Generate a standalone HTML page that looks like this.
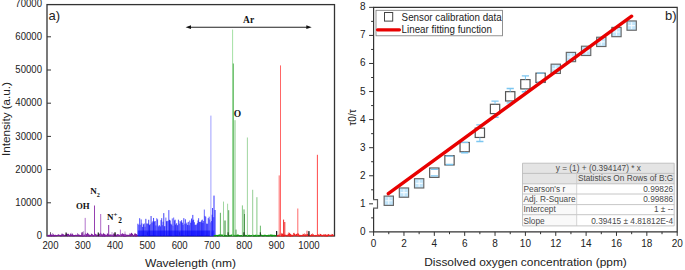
<!DOCTYPE html><html><head><meta charset="utf-8"><style>html,body{margin:0;padding:0;background:#fff;width:685px;height:270px;overflow:hidden}svg{display:block}text{font-family:"Liberation Sans",sans-serif}.s{font-family:"Liberation Serif",serif;font-weight:bold}</style></head><body>
<svg width="685" height="270" viewBox="0 0 685 270">
<defs><clipPath id="cl"><rect x="47.0" y="4.6" width="287.5" height="232.4"/></clipPath><clipPath id="cr"><rect x="373.6" y="7.3" width="303.6" height="224.6"/></clipPath></defs>
<rect x="47.0" y="4.6" width="287.5" height="231.4" fill="none" stroke="#333" stroke-width="1.3"/>
<line x1="47.0" y1="202.80" x2="51.0" y2="202.80" stroke="#333" stroke-width="1"/>
<line x1="47.0" y1="169.60" x2="51.0" y2="169.60" stroke="#333" stroke-width="1"/>
<line x1="47.0" y1="136.40" x2="51.0" y2="136.40" stroke="#333" stroke-width="1"/>
<line x1="47.0" y1="103.20" x2="51.0" y2="103.20" stroke="#333" stroke-width="1"/>
<line x1="47.0" y1="70.00" x2="51.0" y2="70.00" stroke="#333" stroke-width="1"/>
<line x1="47.0" y1="36.80" x2="51.0" y2="36.80" stroke="#333" stroke-width="1"/>
<line x1="50.50" y1="236.0" x2="50.50" y2="232.2" stroke="#666" stroke-width="1"/>
<line x1="82.80" y1="236.0" x2="82.80" y2="232.2" stroke="#666" stroke-width="1"/>
<line x1="115.10" y1="236.0" x2="115.10" y2="232.2" stroke="#666" stroke-width="1"/>
<line x1="147.40" y1="236.0" x2="147.40" y2="232.2" stroke="#666" stroke-width="1"/>
<line x1="179.70" y1="236.0" x2="179.70" y2="232.2" stroke="#666" stroke-width="1"/>
<line x1="212.00" y1="236.0" x2="212.00" y2="232.2" stroke="#666" stroke-width="1"/>
<line x1="244.30" y1="236.0" x2="244.30" y2="232.2" stroke="#666" stroke-width="1"/>
<line x1="276.60" y1="236.0" x2="276.60" y2="232.2" stroke="#666" stroke-width="1"/>
<line x1="308.90" y1="236.0" x2="308.90" y2="232.2" stroke="#666" stroke-width="1"/>
<g clip-path="url(#cl)">
<path d="M47.50 235.90L47.50 235.71L48.30 235.51L48.30 235.89L49.10 235.68L49.10 235.89L49.90 235.88L49.90 235.33L50.70 235.65L50.70 234.67L51.50 235.77L51.50 235.19L52.30 235.55L52.30 235.62L53.10 235.87L53.10 234.57L53.90 235.81L53.90 235.88L54.70 235.41L54.70 235.84L55.50 235.52L55.50 235.65L56.30 235.86L56.30 235.89L57.10 235.49L57.10 235.57L57.90 235.55L57.90 235.53L58.70 235.42L58.70 235.02L59.50 235.56L59.50 235.40L60.30 235.46L60.30 235.75L61.10 235.83L61.10 235.59L61.90 235.81L61.90 233.80L62.70 235.44L62.70 235.31L63.50 235.71L63.50 235.03L64.30 235.55L64.30 235.53L65.10 235.33L65.10 235.50L65.90 235.86L65.90 235.01L66.70 235.30L66.70 234.68L67.50 235.67L67.50 233.94L68.30 235.80L68.30 233.95L69.10 235.82L69.10 235.79L69.90 235.38L69.90 235.89L70.70 235.57L70.70 234.50L71.50 235.38L71.50 235.76L72.30 235.68L72.30 234.49L73.10 235.81L73.10 235.84L73.90 235.76L73.90 235.48L74.70 235.74L74.70 235.90L75.50 235.68L75.50 235.32L76.30 235.49L76.30 235.42L77.10 235.49L77.10 235.89L77.90 235.43L77.90 234.52L78.70 235.66L78.70 235.61L79.50 235.52L79.50 235.37L80.30 235.80L80.30 235.69L81.10 235.81L81.10 235.88L81.90 235.88L81.90 234.52L82.70 235.81L82.70 235.79L83.50 235.68L83.50 235.87L84.30 235.30L84.30 235.51L85.10 235.85L85.10 235.88L85.90 235.74L85.90 234.66L86.70 235.89L86.70 234.27L87.50 235.81L87.50 234.05L88.30 235.31L88.30 234.56L89.10 235.74L89.10 235.66L89.90 235.44L89.90 235.39L90.70 235.70L90.70 235.81L91.50 235.31L91.50 234.59L92.30 235.41L92.30 234.91L93.10 235.59L93.10 235.60L93.90 235.73L93.90 235.78L94.70 235.33L94.70 235.54L95.50 235.31L95.50 234.26L96.30 235.77L96.30 235.81L97.10 235.78L97.10 235.20L97.90 235.40L97.90 235.49L98.70 235.42L98.70 235.89L99.50 235.35L99.50 234.80L100.30 235.61L100.30 235.84L101.10 235.70L101.10 234.75L101.90 235.66L101.90 235.61L102.70 235.47L102.70 235.85L103.50 235.81L103.50 234.43L104.30 235.81L104.30 234.67L105.10 235.51L105.10 235.68L105.90 235.82L105.90 235.90L106.70 235.51L106.70 235.40L107.50 235.64L107.50 234.53L108.30 235.77L108.30 235.79L109.10 235.76L109.10 235.28L109.90 235.65L109.90 235.87L110.70 235.69L110.70 235.52L111.50 235.36L111.50 235.58L112.30 235.60L112.30 235.39L113.10 235.89L113.10 235.55L113.90 235.90L113.90 234.75L114.70 235.62L114.70 234.95L115.50 235.70L115.50 235.42L116.30 235.43L116.30 235.88L117.10 235.75L117.10 235.76L117.90 235.60L117.90 235.33L118.70 235.35L118.70 235.55L119.50 235.60L119.50 235.43L120.30 235.63L120.30 235.39L121.10 235.34L121.10 235.02L121.90 235.33L121.90 235.78L122.70 235.33L122.70 234.63L123.50 235.83L123.50 234.95L124.30 235.86L124.30 235.09L125.10 235.36L125.10 235.86L125.90 235.50L125.90 235.86L126.70 235.32L126.70 235.81L127.50 235.66L127.50 235.47L128.30 235.40L128.30 235.85L129.10 235.59L129.10 235.69L129.90 235.71L129.90 233.58L130.70 235.64L130.70 235.90L131.50 235.53L131.50 232.96L132.30 235.43L132.30 234.20L133.10 235.74L133.10 235.90L133.90 235.74L133.90 235.87L134.70 235.35L134.70 234.69L135.50 235.81L135.50 234.38L136.30 235.48L136.30 234.17L137.10 235.64L137.10 235.89L137.90 235.52" fill="none" stroke="#7a1a9a" stroke-width="1.1"/>
<path d="M82.00 235.90L82.00 232.35L82.60 235.86L82.60 234.26L83.20 235.70L83.20 235.23L83.80 235.74L83.80 235.86L84.40 235.76L84.40 235.87L85.00 235.87L85.00 235.81L85.60 235.72L85.60 234.63L86.20 235.60L86.20 235.83L86.80 235.89L86.80 233.93L87.40 235.57L87.40 235.82L88.00 235.34L88.00 235.88L88.60 235.64L88.60 235.36L89.20 235.66L89.20 235.34L89.80 235.31L89.80 235.64L90.40 235.48L90.40 235.01L91.00 235.69L91.00 235.89L91.60 235.86L91.60 234.69L92.20 235.80L92.20 235.88L92.80 235.38L92.80 234.91L93.40 235.75L93.40 235.71L94.00 235.81L94.00 235.46L94.60 235.32L94.60 233.82L95.20 235.75L95.20 233.85L95.80 235.69L95.80 235.90L96.40 235.62L96.40 235.34L97.00 235.60L97.00 235.90L97.60 235.85L97.60 235.49L98.20 235.72L98.20 235.78L98.80 235.58L98.80 234.66L99.40 235.47L99.40 234.20L100.00 235.70L100.00 233.77L100.60 235.47L100.60 232.90L101.20 235.36L101.20 235.03L101.80 235.41L101.80 235.86L102.40 235.60L102.40 234.37L103.00 235.40L103.00 235.15L103.60 235.49L103.60 234.84L104.20 235.88L104.20 235.86L104.80 235.84L104.80 234.36L105.40 235.52L105.40 235.04L106.00 235.61L106.00 235.90L106.60 235.45L106.60 235.34L107.20 235.50L107.20 235.89L107.80 235.75L107.80 235.89L108.40 235.46L108.40 235.81L109.00 235.31L109.00 235.36L109.60 235.61L109.60 234.87L110.20 235.53L110.20 234.62L110.80 235.75L110.80 234.68L111.40 235.56L111.40 235.23L112.00 235.50L112.00 234.85L112.60 235.73L112.60 235.31L113.20 235.62L113.20 235.87L113.80 235.78L113.80 233.80L114.40 235.89L114.40 235.44L115.00 235.32L115.00 235.46L115.60 235.77L115.60 233.93L116.20 235.55L116.20 235.86L116.80 235.33L116.80 235.86L117.40 235.59L117.40 234.17L118.00 235.76L118.00 234.13L118.60 235.89L118.60 235.90L119.20 235.63L119.20 235.70L119.80 235.69L119.80 235.68L120.40 235.90L120.40 234.66L121.00 235.83L121.00 234.01L121.60 235.36L121.60 235.72L122.20 235.66L122.20 233.71L122.80 235.68L122.80 235.50L123.40 235.87L123.40 235.88L124.00 235.73L124.00 233.97L124.60 235.74L124.60 235.33L125.20 235.68L125.20 233.89L125.80 235.41L125.80 235.02L126.40 235.34" fill="none" stroke="#8a2aa8" stroke-width="0.7"/>
<line x1="85.2" y1="235.9" x2="85.2" y2="217.9" stroke="#a050c0" stroke-width="0.8"/>
<line x1="94.5" y1="235.9" x2="94.5" y2="205.5" stroke="#8a2aa8" stroke-width="0.9"/>
<line x1="100.7" y1="235.9" x2="100.7" y2="214" stroke="#9a40b8" stroke-width="0.8"/>
<line x1="108.7" y1="235.9" x2="108.7" y2="225" stroke="#7a1a9a" stroke-width="0.9"/>
<line x1="120.4" y1="235.9" x2="120.4" y2="229.6" stroke="#a050c0" stroke-width="0.8"/>
<line x1="83.3" y1="235.9" x2="83.3" y2="231" stroke="#a060c0" stroke-width="0.6"/>
<line x1="112" y1="235.9" x2="112" y2="232" stroke="#a060c0" stroke-width="0.6"/>
<line x1="125" y1="235.9" x2="125" y2="231.5" stroke="#a060c0" stroke-width="0.6"/>
<line x1="66.1" y1="235.9" x2="66.1" y2="232.5" stroke="#222" stroke-width="1.2"/>
<line x1="98.3" y1="235.9" x2="98.3" y2="232.5" stroke="#222" stroke-width="1.2"/>
<line x1="115.0" y1="235.9" x2="115.0" y2="232.5" stroke="#222" stroke-width="1.2"/>
<g stroke-width="0.75">
<line x1="137.90" y1="235.9" x2="137.90" y2="223.73" stroke="#0000ff"/>
<line x1="138.83" y1="235.9" x2="138.83" y2="224.84" stroke="#1a1aff"/>
<line x1="139.65" y1="235.9" x2="139.65" y2="218.19" stroke="#1a1aff"/>
<line x1="140.31" y1="235.9" x2="140.31" y2="224.74" stroke="#3333ff"/>
<line x1="141.17" y1="235.9" x2="141.17" y2="219.43" stroke="#1a1aff"/>
<line x1="141.88" y1="235.9" x2="141.88" y2="223.45" stroke="#1a1aff"/>
<line x1="142.70" y1="235.9" x2="142.70" y2="226.93" stroke="#0000ee"/>
<line x1="143.49" y1="235.9" x2="143.49" y2="224.27" stroke="#0000ee"/>
<line x1="144.24" y1="235.9" x2="144.24" y2="223.41" stroke="#1a1aff"/>
<line x1="144.96" y1="235.9" x2="144.96" y2="226.76" stroke="#3333ff"/>
<line x1="145.85" y1="235.9" x2="145.85" y2="218.84" stroke="#0000ee"/>
<line x1="146.59" y1="235.9" x2="146.59" y2="223.50" stroke="#3333ff"/>
<line x1="147.45" y1="235.9" x2="147.45" y2="223.69" stroke="#3333ff"/>
<line x1="148.10" y1="235.9" x2="148.10" y2="223.61" stroke="#1a1aff"/>
<line x1="148.73" y1="235.9" x2="148.73" y2="219.78" stroke="#0000ee"/>
<line x1="149.48" y1="235.9" x2="149.48" y2="225.12" stroke="#0000ff"/>
<line x1="150.13" y1="235.9" x2="150.13" y2="224.18" stroke="#0000ee"/>
<line x1="151.07" y1="235.9" x2="151.07" y2="216.00" stroke="#0000ee"/>
<line x1="152.01" y1="235.9" x2="152.01" y2="222.55" stroke="#0000ff"/>
<line x1="152.94" y1="235.9" x2="152.94" y2="221.31" stroke="#0000ee"/>
<line x1="153.57" y1="235.9" x2="153.57" y2="217.97" stroke="#0000ff"/>
<line x1="154.39" y1="235.9" x2="154.39" y2="221.45" stroke="#0000ee"/>
<line x1="155.24" y1="235.9" x2="155.24" y2="221.08" stroke="#1a1aff"/>
<line x1="155.97" y1="235.9" x2="155.97" y2="225.48" stroke="#0000ff"/>
<line x1="156.76" y1="235.9" x2="156.76" y2="218.20" stroke="#3333ff"/>
<line x1="157.58" y1="235.9" x2="157.58" y2="219.37" stroke="#1a1aff"/>
<line x1="158.38" y1="235.9" x2="158.38" y2="226.51" stroke="#3333ff"/>
<line x1="159.00" y1="235.9" x2="159.00" y2="225.55" stroke="#0000ee"/>
<line x1="159.62" y1="235.9" x2="159.62" y2="225.29" stroke="#3333ff"/>
<line x1="160.30" y1="235.9" x2="160.30" y2="226.41" stroke="#0000ee"/>
<line x1="161.03" y1="235.9" x2="161.03" y2="220.15" stroke="#0000ff"/>
<line x1="161.70" y1="235.9" x2="161.70" y2="218.17" stroke="#1a1aff"/>
<line x1="162.38" y1="235.9" x2="162.38" y2="225.22" stroke="#3333ff"/>
<line x1="163.02" y1="235.9" x2="163.02" y2="221.72" stroke="#1a1aff"/>
<line x1="163.79" y1="235.9" x2="163.79" y2="213.13" stroke="#0000ee"/>
<line x1="164.41" y1="235.9" x2="164.41" y2="226.29" stroke="#0000ee"/>
<line x1="165.03" y1="235.9" x2="165.03" y2="226.10" stroke="#3333ff"/>
<line x1="165.88" y1="235.9" x2="165.88" y2="217.59" stroke="#3333ff"/>
<line x1="166.55" y1="235.9" x2="166.55" y2="221.24" stroke="#0000ee"/>
<line x1="167.16" y1="235.9" x2="167.16" y2="221.09" stroke="#3333ff"/>
<line x1="168.11" y1="235.9" x2="168.11" y2="220.69" stroke="#0000ff"/>
<line x1="168.83" y1="235.9" x2="168.83" y2="210.09" stroke="#1a1aff"/>
<line x1="169.56" y1="235.9" x2="169.56" y2="219.87" stroke="#0000ee"/>
<line x1="170.19" y1="235.9" x2="170.19" y2="220.50" stroke="#0000ee"/>
<line x1="170.86" y1="235.9" x2="170.86" y2="223.71" stroke="#0000ff"/>
<line x1="171.68" y1="235.9" x2="171.68" y2="224.62" stroke="#0000ee"/>
<line x1="172.30" y1="235.9" x2="172.30" y2="218.41" stroke="#3333ff"/>
<line x1="172.97" y1="235.9" x2="172.97" y2="225.77" stroke="#3333ff"/>
<line x1="173.66" y1="235.9" x2="173.66" y2="217.54" stroke="#3333ff"/>
<line x1="174.52" y1="235.9" x2="174.52" y2="220.43" stroke="#3333ff"/>
<line x1="175.12" y1="235.9" x2="175.12" y2="219.69" stroke="#0000ff"/>
<line x1="175.73" y1="235.9" x2="175.73" y2="224.55" stroke="#0000ee"/>
<line x1="176.67" y1="235.9" x2="176.67" y2="223.25" stroke="#0000ee"/>
<line x1="177.55" y1="235.9" x2="177.55" y2="225.18" stroke="#0000ff"/>
<line x1="178.43" y1="235.9" x2="178.43" y2="219.69" stroke="#1a1aff"/>
<line x1="179.24" y1="235.9" x2="179.24" y2="223.64" stroke="#3333ff"/>
<line x1="180.12" y1="235.9" x2="180.12" y2="221.09" stroke="#0000ee"/>
<line x1="180.98" y1="235.9" x2="180.98" y2="222.01" stroke="#3333ff"/>
<line x1="181.64" y1="235.9" x2="181.64" y2="220.22" stroke="#0000ff"/>
<line x1="182.31" y1="235.9" x2="182.31" y2="222.67" stroke="#0000ee"/>
<line x1="182.97" y1="235.9" x2="182.97" y2="224.95" stroke="#1a1aff"/>
<line x1="183.83" y1="235.9" x2="183.83" y2="218.17" stroke="#0000ff"/>
<line x1="184.71" y1="235.9" x2="184.71" y2="223.67" stroke="#3333ff"/>
<line x1="185.44" y1="235.9" x2="185.44" y2="219.29" stroke="#1a1aff"/>
<line x1="186.10" y1="235.9" x2="186.10" y2="224.08" stroke="#1a1aff"/>
<line x1="186.82" y1="235.9" x2="186.82" y2="222.68" stroke="#1a1aff"/>
<line x1="187.64" y1="235.9" x2="187.64" y2="224.97" stroke="#0000ff"/>
<line x1="188.28" y1="235.9" x2="188.28" y2="221.87" stroke="#0000ee"/>
<line x1="189.20" y1="235.9" x2="189.20" y2="225.23" stroke="#0000ff"/>
<line x1="189.82" y1="235.9" x2="189.82" y2="220.52" stroke="#1a1aff"/>
<line x1="190.74" y1="235.9" x2="190.74" y2="222.72" stroke="#0000ee"/>
<line x1="191.55" y1="235.9" x2="191.55" y2="218.52" stroke="#0000ff"/>
<line x1="192.19" y1="235.9" x2="192.19" y2="220.44" stroke="#1a1aff"/>
<line x1="192.80" y1="235.9" x2="192.80" y2="214.91" stroke="#0000ff"/>
<line x1="193.61" y1="235.9" x2="193.61" y2="219.78" stroke="#0000ff"/>
<line x1="194.50" y1="235.9" x2="194.50" y2="222.20" stroke="#3333ff"/>
<line x1="195.13" y1="235.9" x2="195.13" y2="225.04" stroke="#0000ee"/>
<line x1="195.75" y1="235.9" x2="195.75" y2="224.63" stroke="#1a1aff"/>
<line x1="196.57" y1="235.9" x2="196.57" y2="224.66" stroke="#3333ff"/>
<line x1="197.32" y1="235.9" x2="197.32" y2="223.20" stroke="#0000ff"/>
<line x1="198.03" y1="235.9" x2="198.03" y2="220.45" stroke="#0000ee"/>
<line x1="198.63" y1="235.9" x2="198.63" y2="218.21" stroke="#1a1aff"/>
<line x1="199.37" y1="235.9" x2="199.37" y2="222.00" stroke="#0000ee"/>
<line x1="200.28" y1="235.9" x2="200.28" y2="221.78" stroke="#0000ee"/>
<line x1="201.09" y1="235.9" x2="201.09" y2="222.30" stroke="#1a1aff"/>
<line x1="201.69" y1="235.9" x2="201.69" y2="220.42" stroke="#0000ee"/>
<line x1="202.32" y1="235.9" x2="202.32" y2="219.62" stroke="#1a1aff"/>
<line x1="202.97" y1="235.9" x2="202.97" y2="222.95" stroke="#0000ff"/>
<line x1="203.61" y1="235.9" x2="203.61" y2="220.95" stroke="#1a1aff"/>
<line x1="204.32" y1="235.9" x2="204.32" y2="209.56" stroke="#3333ff"/>
<line x1="204.94" y1="235.9" x2="204.94" y2="215.92" stroke="#1a1aff"/>
<line x1="205.76" y1="235.9" x2="205.76" y2="216.72" stroke="#1a1aff"/>
<line x1="206.65" y1="235.9" x2="206.65" y2="223.61" stroke="#0000ee"/>
<line x1="207.58" y1="235.9" x2="207.58" y2="223.77" stroke="#1a1aff"/>
<line x1="208.27" y1="235.9" x2="208.27" y2="218.14" stroke="#0000ff"/>
<line x1="209.18" y1="235.9" x2="209.18" y2="216.68" stroke="#3333ff"/>
<line x1="209.82" y1="235.9" x2="209.82" y2="219.47" stroke="#3333ff"/>
<line x1="210.64" y1="235.9" x2="210.64" y2="222.38" stroke="#0000ee"/>
<line x1="211.47" y1="235.9" x2="211.47" y2="221.01" stroke="#0000ff"/>
<line x1="212.08" y1="235.9" x2="212.08" y2="214.70" stroke="#0000ee"/>
<line x1="212.94" y1="235.9" x2="212.94" y2="217.22" stroke="#1a1aff"/>
<line x1="213.83" y1="235.9" x2="213.83" y2="217.21" stroke="#3333ff"/>
</g>
<rect x="137.9" y="230.5" width="76.3" height="6.00" fill="#0000ff" opacity="0.55"/>
<line x1="210.9" y1="235.9" x2="210.9" y2="115.6" stroke="#8888ff" stroke-width="0.8"/>
<line x1="214.0" y1="235.9" x2="214.0" y2="195.6" stroke="#3030ff" stroke-width="1.0"/>
<line x1="215.0" y1="235.9" x2="215.0" y2="210" stroke="#2020ff" stroke-width="1.0"/>
<line x1="212.5" y1="235.9" x2="212.5" y2="208" stroke="#2020ff" stroke-width="0.8"/>
<path d="M214.20 235.90L214.20 235.72L215.20 235.88L215.20 235.54L216.20 235.46L216.20 235.36L217.20 235.87L217.20 235.67L218.20 235.33L218.20 235.88L219.20 235.30L219.20 235.42L220.20 235.78L220.20 235.03L221.20 235.33L221.20 235.14L222.20 235.43L222.20 235.12L223.20 235.69L223.20 235.39L224.20 235.36L224.20 235.83L225.20 235.81L225.20 235.67L226.20 235.78L226.20 235.84L227.20 235.71L227.20 235.90L228.20 235.80L228.20 235.11L229.20 235.36L229.20 235.87L230.20 235.83L230.20 235.65L231.20 235.68L231.20 235.21L232.20 235.55L232.20 235.20L233.20 235.30L233.20 235.54L234.20 235.42L234.20 235.84L235.20 235.55L235.20 235.78L236.20 235.63L236.20 235.87L237.20 235.87L237.20 235.30L238.20 235.52L238.20 235.03L239.20 235.50L239.20 235.81L240.20 235.88L240.20 235.88L241.20 235.64L241.20 235.66L242.20 235.82L242.20 235.85L243.20 235.89L243.20 235.90L244.20 235.84L244.20 235.79L245.20 235.55L245.20 235.59L246.20 235.53L246.20 235.70L247.20 235.34L247.20 235.85L248.20 235.84L248.20 235.53L249.20 235.43L249.20 235.75L250.20 235.89L250.20 235.53L251.20 235.69L251.20 235.52L252.20 235.34L252.20 235.42L253.20 235.36L253.20 235.90L254.20 235.66L254.20 235.85L255.20 235.43L255.20 235.90L256.20 235.34L256.20 235.88L257.20 235.54L257.20 235.67L258.20 235.41L258.20 235.87L259.20 235.72L259.20 235.90L260.20 235.43L260.20 235.44L261.20 235.39L261.20 235.40L262.20 235.45L262.20 235.72L263.20 235.84L263.20 235.85L264.20 235.70L264.20 235.39L265.20 235.39L265.20 235.44L266.20 235.57L266.20 235.73L267.20 235.59L267.20 235.84L268.20 235.32L268.20 235.86L269.20 235.89L269.20 235.84L270.20 235.45L270.20 235.10L271.20 235.70L271.20 235.20L272.20 235.76L272.20 235.16L273.20 235.48L273.20 235.50L274.20 235.62L274.20 235.27L275.20 235.39L275.20 235.73L276.20 235.56L276.20 235.81L277.20 235.53" fill="none" stroke="#119911" stroke-width="1.1"/>
<line x1="220.4" y1="235.9" x2="220.4" y2="212.8" stroke="#3a9a3a" stroke-width="0.8"/>
<line x1="223.5" y1="235.9" x2="223.5" y2="201.6" stroke="#88cc88" stroke-width="0.8"/>
<line x1="225" y1="235.9" x2="225" y2="220.5" stroke="#117711" stroke-width="0.9"/>
<line x1="227.6" y1="235.9" x2="227.6" y2="203.7" stroke="#88cc88" stroke-width="0.8"/>
<line x1="228.7" y1="235.9" x2="228.7" y2="210.2" stroke="#2a882a" stroke-width="0.8"/>
<line x1="232.6" y1="235.9" x2="232.6" y2="29.6" stroke="#99dd99" stroke-width="0.9"/>
<line x1="233.3" y1="235.9" x2="233.3" y2="63.5" stroke="#44aa44" stroke-width="0.9"/>
<line x1="235.0" y1="235.9" x2="235.0" y2="120.2" stroke="#66bb66" stroke-width="0.8"/>
<line x1="236.0" y1="235.9" x2="236.0" y2="229.6" stroke="#338833" stroke-width="0.8"/>
<line x1="242.4" y1="235.9" x2="242.4" y2="205.4" stroke="#66bb66" stroke-width="0.8"/>
<line x1="244.0" y1="235.9" x2="244.0" y2="209.4" stroke="#339933" stroke-width="0.8"/>
<line x1="244.5" y1="235.9" x2="244.5" y2="214" stroke="#227722" stroke-width="0.7"/>
<line x1="247.4" y1="235.9" x2="247.4" y2="137.5" stroke="#88cc88" stroke-width="0.8"/>
<line x1="252.7" y1="235.9" x2="252.7" y2="189.8" stroke="#77c077" stroke-width="0.8"/>
<line x1="256.9" y1="235.9" x2="256.9" y2="197.2" stroke="#66bb66" stroke-width="0.8"/>
<line x1="260.4" y1="235.9" x2="260.4" y2="225.7" stroke="#44aa44" stroke-width="0.8"/>
<line x1="276.6" y1="235.9" x2="276.6" y2="231" stroke="#222" stroke-width="1.2"/>
<line x1="228.1" y1="235.9" x2="228.1" y2="232.3" stroke="#1a3a1a" stroke-width="1"/>
<line x1="243.9" y1="235.9" x2="243.9" y2="232.3" stroke="#1a3a1a" stroke-width="1"/>
<line x1="260.3" y1="235.9" x2="260.3" y2="232.3" stroke="#1a3a1a" stroke-width="1"/>
<path d="M277.00 235.90L277.00 235.89L277.80 235.81L277.80 235.90L278.60 235.34L278.60 235.66L279.40 235.88L279.40 235.90L280.20 235.52L280.20 234.93L281.00 235.86L281.00 235.20L281.80 235.41L281.80 234.56L282.60 235.86L282.60 234.39L283.40 235.33L283.40 235.88L284.20 235.83L284.20 235.90L285.00 235.41L285.00 235.10L285.80 235.52L285.80 235.52L286.60 235.45L286.60 235.82L287.40 235.65L287.40 235.90L288.20 235.73L288.20 234.88L289.00 235.71L289.00 234.04L289.80 235.39L289.80 234.23L290.60 235.64L290.60 234.70L291.40 235.48L291.40 235.32L292.20 235.38L292.20 235.88L293.00 235.80L293.00 235.90L293.80 235.44L293.80 232.91L294.60 235.61L294.60 234.63L295.40 235.60L295.40 235.66L296.20 235.74L296.20 234.12L297.00 235.77L297.00 234.92L297.80 235.83L297.80 233.36L298.60 235.48L298.60 234.66L299.40 235.69L299.40 235.58L300.20 235.37L300.20 235.89L301.00 235.88L301.00 235.82L301.80 235.36L301.80 235.40L302.60 235.37L302.60 235.79L303.40 235.58L303.40 234.76L304.20 235.51L304.20 235.66L305.00 235.81L305.00 234.48L305.80 235.45L305.80 235.84L306.60 235.44L306.60 235.23L307.40 235.62L307.40 234.33L308.20 235.79L308.20 235.72L309.00 235.39L309.00 235.85L309.80 235.75L309.80 235.69L310.60 235.80L310.60 235.68L311.40 235.31L311.40 234.84L312.20 235.32L312.20 235.88L313.00 235.31L313.00 234.64L313.80 235.64L313.80 235.82L314.60 235.84L314.60 235.81L315.40 235.88L315.40 235.58L316.20 235.48L316.20 235.40L317.00 235.62L317.00 235.86L317.80 235.66L317.80 234.80L318.60 235.64L318.60 235.24L319.40 235.65L319.40 235.80L320.20 235.37L320.20 234.70L321.00 235.39L321.00 234.98L321.80 235.63L321.80 235.70L322.60 235.84L322.60 235.55L323.40 235.47L323.40 235.11L324.20 235.65L324.20 235.49L325.00 235.65L325.00 234.99L325.80 235.79L325.80 235.04L326.60 235.67L326.60 235.42L327.40 235.88L327.40 235.31L328.20 235.43L328.20 234.13L329.00 235.84L329.00 235.24L329.80 235.47L329.80 235.38L330.60 235.40L330.60 235.36L331.40 235.33L331.40 235.81L332.20 235.66L332.20 234.74L333.00 235.31L333.00 235.04L333.80 235.66" fill="none" stroke="#ee2222" stroke-width="1.1"/>
<line x1="279.2" y1="235.9" x2="279.2" y2="175.4" stroke="#ff4444" stroke-width="0.8"/>
<line x1="280.5" y1="235.9" x2="280.5" y2="65.4" stroke="#ff5555" stroke-width="0.9"/>
<line x1="283.6" y1="235.9" x2="283.6" y2="219.6" stroke="#ee1111" stroke-width="0.9"/>
<line x1="284.8" y1="235.9" x2="284.8" y2="222" stroke="#ee1111" stroke-width="0.9"/>
<line x1="297.8" y1="235.9" x2="297.8" y2="208.5" stroke="#ff4444" stroke-width="0.8"/>
<line x1="307" y1="235.9" x2="307" y2="230.7" stroke="#ee2222" stroke-width="0.8"/>
<line x1="317.4" y1="235.9" x2="317.4" y2="154.8" stroke="#ff3333" stroke-width="0.9"/>
<line x1="308.9" y1="235.9" x2="308.9" y2="231" stroke="#222" stroke-width="1.2"/>
</g>
<text transform="translate(42.00,239.20) scale(1,1.12)" font-size="9.6" text-anchor="end" fill="#222">0</text>
<text transform="translate(42.00,206.00) scale(1,1.12)" font-size="9.6" text-anchor="end" fill="#222">10000</text>
<text transform="translate(42.00,172.80) scale(1,1.12)" font-size="9.6" text-anchor="end" fill="#222">20000</text>
<text transform="translate(42.00,139.60) scale(1,1.12)" font-size="9.6" text-anchor="end" fill="#222">30000</text>
<text transform="translate(42.00,106.40) scale(1,1.12)" font-size="9.6" text-anchor="end" fill="#222">40000</text>
<text transform="translate(42.00,73.20) scale(1,1.12)" font-size="9.6" text-anchor="end" fill="#222">50000</text>
<text transform="translate(42.00,40.00) scale(1,1.12)" font-size="9.6" text-anchor="end" fill="#222">60000</text>
<text transform="translate(42.00,6.80) scale(1,1.12)" font-size="9.6" text-anchor="end" fill="#222">70000</text>
<text transform="translate(50.50,248.60) scale(1,1.12)" font-size="9.6" text-anchor="middle" fill="#222">200</text>
<text transform="translate(82.80,248.60) scale(1,1.12)" font-size="9.6" text-anchor="middle" fill="#222">300</text>
<text transform="translate(115.10,248.60) scale(1,1.12)" font-size="9.6" text-anchor="middle" fill="#222">400</text>
<text transform="translate(147.40,248.60) scale(1,1.12)" font-size="9.6" text-anchor="middle" fill="#222">500</text>
<text transform="translate(179.70,248.60) scale(1,1.12)" font-size="9.6" text-anchor="middle" fill="#222">600</text>
<text transform="translate(212.00,248.60) scale(1,1.12)" font-size="9.6" text-anchor="middle" fill="#222">700</text>
<text transform="translate(244.30,248.60) scale(1,1.12)" font-size="9.6" text-anchor="middle" fill="#222">800</text>
<text transform="translate(276.60,248.60) scale(1,1.12)" font-size="9.6" text-anchor="middle" fill="#222">900</text>
<text transform="translate(308.90,248.60) scale(1,1.12)" font-size="9.6" text-anchor="middle" fill="#222">1000</text>
<text x="145" y="266.9" font-size="11.3" textLength="91" lengthAdjust="spacingAndGlyphs" fill="#222">Wavelength (nm)</text>
<text transform="translate(9.9,156) rotate(-90)" font-size="10.8" textLength="74" lengthAdjust="spacingAndGlyphs" fill="#222">Intensity (a.u.)</text>
<text transform="translate(48.60,19.60) scale(1,1.05)" font-size="13" text-anchor="start" fill="#222">a)</text>
<line x1="189" y1="27.2" x2="308" y2="27.2" stroke="#222" stroke-width="1.1"/>
<path d="M185.6 27.2 L191 25.3 L191 29.1 Z" fill="#111"/>
<path d="M311.7 27.2 L306.3 25.3 L306.3 29.1 Z" fill="#111"/>
<text class="s" transform="translate(243.10,22.60) scale(1,1.0)" font-size="9.5" text-anchor="start" fill="#111">Ar</text>
<text class="s" transform="translate(233.80,116.80) scale(1,1.0)" font-size="9.5" text-anchor="start" fill="#111">O</text>
<text class="s" transform="translate(76.00,208.80) scale(1,1.0)" font-size="8.8" text-anchor="start" fill="#111">OH</text>
<text class="s" x="90.3" y="193.8" font-size="9" fill="#111">N<tspan font-size="6.2" dy="2.9">2</tspan></text>
<text class="s" x="107" y="220" font-size="9" fill="#111">N<tspan font-size="6.8" dy="-2.6">+</tspan><tspan font-size="7.3" dx="0.8" dy="5.6">2</tspan></text>
<g clip-path="url(#cr)">
<rect x="384.13" y="196.09" width="9.3" height="9.3" fill="#c2e5fa" stroke="#666" stroke-width="1.15"/>
<g stroke="#f4fbff" stroke-width="1.1"><line x1="385.38" y1="200.74" x2="392.18" y2="200.74"/><line x1="388.78" y1="197.34" x2="388.78" y2="204.14"/></g>
<rect x="399.31" y="187.95" width="9.3" height="9.3" fill="#c2e5fa" stroke="#666" stroke-width="1.15"/>
<g stroke="#f4fbff" stroke-width="1.1"><line x1="400.56" y1="192.60" x2="407.36" y2="192.60"/><line x1="403.96" y1="189.20" x2="403.96" y2="196.00"/></g>
<rect x="414.49" y="178.69" width="9.3" height="9.3" fill="#c2e5fa" stroke="#666" stroke-width="1.15"/>
<g stroke="#f4fbff" stroke-width="1.1"><line x1="415.74" y1="183.34" x2="422.54" y2="183.34"/><line x1="419.14" y1="179.94" x2="419.14" y2="186.74"/></g>
<rect x="429.67" y="168.02" width="9.3" height="9.3" fill="#fff" stroke="#555" stroke-width="1.2"/>
<g stroke="#7cc6f0" stroke-width="1.3"><line x1="430.72" y1="169.47" x2="437.92" y2="169.47"/><line x1="430.72" y1="175.87" x2="437.92" y2="175.87"/>
</g>
<rect x="444.85" y="155.67" width="9.3" height="9.3" fill="#fff" stroke="#555" stroke-width="1.2"/>
<g stroke="#7cc6f0" stroke-width="1.3"><line x1="445.90" y1="156.12" x2="453.10" y2="156.12"/><line x1="445.90" y1="164.52" x2="453.10" y2="164.52"/>
</g>
<rect x="460.03" y="142.48" width="9.3" height="9.3" fill="#fff" stroke="#555" stroke-width="1.2"/>
<g stroke="#7cc6f0" stroke-width="1.3"><line x1="461.08" y1="142.43" x2="468.28" y2="142.43"/><line x1="461.08" y1="152.73" x2="468.28" y2="152.73"/>
<line x1="464.68" y1="152.73" x2="464.68" y2="151.78" stroke-width="1"/>
</g>
<rect x="475.21" y="128.16" width="9.3" height="9.3" fill="#fff" stroke="#555" stroke-width="1.2"/>
<g stroke="#7cc6f0" stroke-width="1.3"><line x1="476.26" y1="124.81" x2="483.46" y2="124.81"/><line x1="476.26" y1="141.51" x2="483.46" y2="141.51"/>
<line x1="479.86" y1="124.81" x2="479.86" y2="128.16" stroke-width="1"/>
<line x1="479.86" y1="141.51" x2="479.86" y2="137.46" stroke-width="1"/>
</g>
<rect x="490.39" y="104.30" width="9.3" height="9.3" fill="#fff" stroke="#555" stroke-width="1.2"/>
<g stroke="#7cc6f0" stroke-width="1.3"><line x1="491.44" y1="101.15" x2="498.64" y2="101.15"/><line x1="491.44" y1="117.25" x2="498.64" y2="117.25"/>
<line x1="495.04" y1="101.15" x2="495.04" y2="104.30" stroke-width="1"/>
<line x1="495.04" y1="117.25" x2="495.04" y2="113.60" stroke-width="1"/>
</g>
<rect x="505.57" y="91.67" width="9.3" height="9.3" fill="#fff" stroke="#555" stroke-width="1.2"/>
<g stroke="#7cc6f0" stroke-width="1.3"><line x1="506.62" y1="88.52" x2="513.82" y2="88.52"/><line x1="506.62" y1="102.82" x2="513.82" y2="102.82"/>
<line x1="510.22" y1="88.52" x2="510.22" y2="91.67" stroke-width="1"/>
<line x1="510.22" y1="102.82" x2="510.22" y2="100.97" stroke-width="1"/>
</g>
<rect x="520.75" y="79.60" width="9.3" height="9.3" fill="#fff" stroke="#555" stroke-width="1.2"/>
<g stroke="#7cc6f0" stroke-width="1.3"><line x1="521.80" y1="75.95" x2="529.00" y2="75.95"/><line x1="521.80" y1="91.75" x2="529.00" y2="91.75"/>
<line x1="525.40" y1="75.95" x2="525.40" y2="79.60" stroke-width="1"/>
<line x1="525.40" y1="91.75" x2="525.40" y2="88.90" stroke-width="1"/>
</g>
<rect x="535.93" y="73.15" width="9.3" height="9.3" fill="#fff" stroke="#555" stroke-width="1.2"/>
<g stroke="#7cc6f0" stroke-width="1.3"><line x1="536.98" y1="73.20" x2="544.18" y2="73.20"/><line x1="536.98" y1="82.20" x2="544.18" y2="82.20"/>
</g>
<rect x="551.11" y="64.16" width="9.3" height="9.3" fill="#c2e5fa" stroke="#666" stroke-width="1.15"/>
<g stroke="#f4fbff" stroke-width="1.1"><line x1="552.36" y1="68.81" x2="559.16" y2="68.81"/><line x1="555.76" y1="65.41" x2="555.76" y2="72.21"/></g>
<rect x="566.29" y="52.37" width="9.3" height="9.3" fill="#c2e5fa" stroke="#666" stroke-width="1.15"/>
<g stroke="#f4fbff" stroke-width="1.1"><line x1="567.54" y1="57.02" x2="574.34" y2="57.02"/><line x1="570.94" y1="53.62" x2="570.94" y2="60.42"/></g>
<rect x="581.47" y="46.20" width="9.3" height="9.3" fill="#c2e5fa" stroke="#666" stroke-width="1.15"/>
<g stroke="#f4fbff" stroke-width="1.1"><line x1="582.72" y1="50.85" x2="589.52" y2="50.85"/><line x1="586.12" y1="47.45" x2="586.12" y2="54.25"/></g>
<rect x="596.65" y="37.22" width="9.3" height="9.3" fill="#c2e5fa" stroke="#666" stroke-width="1.15"/>
<g stroke="#f4fbff" stroke-width="1.1"><line x1="597.90" y1="41.87" x2="604.70" y2="41.87"/><line x1="601.30" y1="38.47" x2="601.30" y2="45.27"/></g>
<rect x="611.83" y="27.39" width="9.3" height="9.3" fill="#c2e5fa" stroke="#666" stroke-width="1.15"/>
<g stroke="#f4fbff" stroke-width="1.1"><line x1="613.08" y1="32.04" x2="619.88" y2="32.04"/><line x1="616.48" y1="28.64" x2="616.48" y2="35.44"/></g>
<rect x="627.01" y="20.94" width="9.3" height="9.3" fill="#c2e5fa" stroke="#666" stroke-width="1.15"/>
<g stroke="#f4fbff" stroke-width="1.1"><line x1="628.26" y1="25.59" x2="635.06" y2="25.59"/><line x1="631.66" y1="22.19" x2="631.66" y2="28.99"/></g>
</g>
<line x1="388.28" y1="193.67" x2="631.66" y2="16.15" stroke="#e80000" stroke-width="3.3" stroke-linecap="round"/>
<path d="M373.6 7.3 H677.2 V231.9 H373.6 Z" fill="none" stroke="#333" stroke-width="1.2"/>
<line x1="369.1" y1="231.90" x2="373.6" y2="231.90" stroke="#333" stroke-width="1"/>
<line x1="371.1" y1="217.87" x2="373.6" y2="217.87" stroke="#333" stroke-width="1"/>
<text transform="translate(365.60,234.90) scale(1,1.12)" font-size="10" text-anchor="end" fill="#222">0</text>
<line x1="369.1" y1="203.83" x2="373.6" y2="203.83" stroke="#333" stroke-width="1"/>
<line x1="371.1" y1="189.80" x2="373.6" y2="189.80" stroke="#333" stroke-width="1"/>
<text transform="translate(365.60,206.83) scale(1,1.12)" font-size="10" text-anchor="end" fill="#222">1</text>
<line x1="369.1" y1="175.76" x2="373.6" y2="175.76" stroke="#333" stroke-width="1"/>
<line x1="371.1" y1="161.73" x2="373.6" y2="161.73" stroke="#333" stroke-width="1"/>
<text transform="translate(365.60,178.76) scale(1,1.12)" font-size="10" text-anchor="end" fill="#222">2</text>
<line x1="369.1" y1="147.69" x2="373.6" y2="147.69" stroke="#333" stroke-width="1"/>
<line x1="371.1" y1="133.66" x2="373.6" y2="133.66" stroke="#333" stroke-width="1"/>
<text transform="translate(365.60,150.69) scale(1,1.12)" font-size="10" text-anchor="end" fill="#222">3</text>
<line x1="369.1" y1="119.62" x2="373.6" y2="119.62" stroke="#333" stroke-width="1"/>
<line x1="371.1" y1="105.59" x2="373.6" y2="105.59" stroke="#333" stroke-width="1"/>
<text transform="translate(365.60,122.62) scale(1,1.12)" font-size="10" text-anchor="end" fill="#222">4</text>
<line x1="369.1" y1="91.55" x2="373.6" y2="91.55" stroke="#333" stroke-width="1"/>
<line x1="371.1" y1="77.52" x2="373.6" y2="77.52" stroke="#333" stroke-width="1"/>
<text transform="translate(365.60,94.55) scale(1,1.12)" font-size="10" text-anchor="end" fill="#222">5</text>
<line x1="369.1" y1="63.48" x2="373.6" y2="63.48" stroke="#333" stroke-width="1"/>
<line x1="371.1" y1="49.44" x2="373.6" y2="49.44" stroke="#333" stroke-width="1"/>
<text transform="translate(365.60,66.48) scale(1,1.12)" font-size="10" text-anchor="end" fill="#222">6</text>
<line x1="369.1" y1="35.41" x2="373.6" y2="35.41" stroke="#333" stroke-width="1"/>
<line x1="371.1" y1="21.38" x2="373.6" y2="21.38" stroke="#333" stroke-width="1"/>
<text transform="translate(365.60,38.41) scale(1,1.12)" font-size="10" text-anchor="end" fill="#222">7</text>
<line x1="369.1" y1="7.34" x2="373.6" y2="7.34" stroke="#333" stroke-width="1"/>
<text transform="translate(365.60,10.34) scale(1,1.12)" font-size="10" text-anchor="end" fill="#222">8</text>
<line x1="373.60" y1="231.9" x2="373.60" y2="235.9" stroke="#333" stroke-width="1"/>
<text transform="translate(373.60,246.80) scale(1,1.12)" font-size="10" text-anchor="middle" fill="#222">0</text>
<line x1="388.78" y1="231.9" x2="388.78" y2="234.20000000000002" stroke="#333" stroke-width="1"/>
<line x1="403.96" y1="231.9" x2="403.96" y2="235.9" stroke="#333" stroke-width="1"/>
<text transform="translate(403.96,246.80) scale(1,1.12)" font-size="10" text-anchor="middle" fill="#222">2</text>
<line x1="419.14" y1="231.9" x2="419.14" y2="234.20000000000002" stroke="#333" stroke-width="1"/>
<line x1="434.32" y1="231.9" x2="434.32" y2="235.9" stroke="#333" stroke-width="1"/>
<text transform="translate(434.32,246.80) scale(1,1.12)" font-size="10" text-anchor="middle" fill="#222">4</text>
<line x1="449.50" y1="231.9" x2="449.50" y2="234.20000000000002" stroke="#333" stroke-width="1"/>
<line x1="464.68" y1="231.9" x2="464.68" y2="235.9" stroke="#333" stroke-width="1"/>
<text transform="translate(464.68,246.80) scale(1,1.12)" font-size="10" text-anchor="middle" fill="#222">6</text>
<line x1="479.86" y1="231.9" x2="479.86" y2="234.20000000000002" stroke="#333" stroke-width="1"/>
<line x1="495.04" y1="231.9" x2="495.04" y2="235.9" stroke="#333" stroke-width="1"/>
<text transform="translate(495.04,246.80) scale(1,1.12)" font-size="10" text-anchor="middle" fill="#222">8</text>
<line x1="510.22" y1="231.9" x2="510.22" y2="234.20000000000002" stroke="#333" stroke-width="1"/>
<line x1="525.40" y1="231.9" x2="525.40" y2="235.9" stroke="#333" stroke-width="1"/>
<text transform="translate(525.40,246.80) scale(1,1.12)" font-size="10" text-anchor="middle" fill="#222">10</text>
<line x1="540.58" y1="231.9" x2="540.58" y2="234.20000000000002" stroke="#333" stroke-width="1"/>
<line x1="555.76" y1="231.9" x2="555.76" y2="235.9" stroke="#333" stroke-width="1"/>
<text transform="translate(555.76,246.80) scale(1,1.12)" font-size="10" text-anchor="middle" fill="#222">12</text>
<line x1="570.94" y1="231.9" x2="570.94" y2="234.20000000000002" stroke="#333" stroke-width="1"/>
<line x1="586.12" y1="231.9" x2="586.12" y2="235.9" stroke="#333" stroke-width="1"/>
<text transform="translate(586.12,246.80) scale(1,1.12)" font-size="10" text-anchor="middle" fill="#222">14</text>
<line x1="601.30" y1="231.9" x2="601.30" y2="234.20000000000002" stroke="#333" stroke-width="1"/>
<line x1="616.48" y1="231.9" x2="616.48" y2="235.9" stroke="#333" stroke-width="1"/>
<text transform="translate(616.48,246.80) scale(1,1.12)" font-size="10" text-anchor="middle" fill="#222">16</text>
<line x1="631.66" y1="231.9" x2="631.66" y2="234.20000000000002" stroke="#333" stroke-width="1"/>
<line x1="646.84" y1="231.9" x2="646.84" y2="235.9" stroke="#333" stroke-width="1"/>
<text transform="translate(646.84,246.80) scale(1,1.12)" font-size="10" text-anchor="middle" fill="#222">18</text>
<line x1="662.02" y1="231.9" x2="662.02" y2="234.20000000000002" stroke="#333" stroke-width="1"/>
<line x1="677.20" y1="231.9" x2="677.20" y2="235.9" stroke="#333" stroke-width="1"/>
<text transform="translate(677.20,246.80) scale(1,1.12)" font-size="10" text-anchor="middle" fill="#222">20</text>
<text x="424.2" y="265.5" font-size="10.9" textLength="202.6" lengthAdjust="spacingAndGlyphs" fill="#222">Dissolved oxygen concentration (ppm)</text>
<text transform="translate(356.4,117.5) rotate(-90)" font-size="10.2" text-anchor="middle" fill="#222">τ0/τ</text>
<text transform="translate(665.10,20.20) scale(1,1.05)" font-size="13" text-anchor="start" fill="#222">b)</text>
<path d="M373.0 199.53 H377.5 V208.13 H373.0" fill="#fff" stroke="#606060" stroke-width="1.2"/>
<rect x="376" y="10.3" width="126.5" height="25.5" fill="#fff" stroke="#777" stroke-width="0.8"/>
<rect x="384.5" y="12.5" width="8.2" height="8.6" fill="#fff" stroke="#444" stroke-width="1"/>
<text transform="translate(401.60,21.20) scale(1,1.12)" font-size="9.8" text-anchor="start" fill="#222">Sensor calibration data</text>
<line x1="377.5" y1="29.8" x2="399.5" y2="29.8" stroke="#e80000" stroke-width="3.2" stroke-linecap="round"/>
<text transform="translate(401.60,33.00) scale(1,1.12)" font-size="9.8" text-anchor="start" fill="#222">Linear fitting function</text>
<rect x="522.5" y="163.2" width="151.70000000000005" height="20.600000000000023" fill="#e4e4e4"/>
<rect x="522.5" y="183.8" width="54.200000000000045" height="42.099999999999994" fill="#f9f9f9"/>
<line x1="522.5" y1="163.2" x2="674.2" y2="163.2" stroke="#b8b8b8" stroke-width="0.8"/>
<line x1="522.5" y1="173.4" x2="674.2" y2="173.4" stroke="#b8b8b8" stroke-width="0.8"/>
<line x1="522.5" y1="183.8" x2="674.2" y2="183.8" stroke="#b8b8b8" stroke-width="0.8"/>
<line x1="522.5" y1="194.0" x2="674.2" y2="194.0" stroke="#b8b8b8" stroke-width="0.8"/>
<line x1="522.5" y1="204.6" x2="674.2" y2="204.6" stroke="#b8b8b8" stroke-width="0.8"/>
<line x1="522.5" y1="214.7" x2="674.2" y2="214.7" stroke="#b8b8b8" stroke-width="0.8"/>
<line x1="522.5" y1="225.9" x2="674.2" y2="225.9" stroke="#b8b8b8" stroke-width="0.8"/>
<line x1="522.5" y1="163.2" x2="522.5" y2="225.9" stroke="#b8b8b8" stroke-width="0.8"/>
<line x1="674.2" y1="163.2" x2="674.2" y2="225.9" stroke="#b8b8b8" stroke-width="0.8"/>
<line x1="576.7" y1="173.4" x2="576.7" y2="225.9" stroke="#c8c8c8" stroke-width="0.8"/>
<text transform="translate(598.35,170.80) scale(1,1.12)" font-size="8.3" text-anchor="middle" fill="#4a4a4a">y = (1) + (0.394147) * x</text>
<text transform="translate(673.20,181.20) scale(1,1.12)" font-size="8.3" text-anchor="end" fill="#4a4a4a">Statistics On Rows of B:G</text>
<text transform="translate(523.50,191.60) scale(1,1.12)" font-size="8.3" text-anchor="start" fill="#4a4a4a">Pearson's r</text>
<text transform="translate(673.20,191.60) scale(1,1.12)" font-size="8.3" text-anchor="end" fill="#4a4a4a">0.99826</text>
<text transform="translate(523.50,202.20) scale(1,1.12)" font-size="8.3" text-anchor="start" fill="#4a4a4a">Adj. R-Square</text>
<text transform="translate(673.20,202.20) scale(1,1.12)" font-size="8.3" text-anchor="end" fill="#4a4a4a">0.99886</text>
<text transform="translate(523.50,212.30) scale(1,1.12)" font-size="8.3" text-anchor="start" fill="#4a4a4a">Intercept</text>
<text transform="translate(673.20,212.30) scale(1,1.12)" font-size="8.3" text-anchor="end" fill="#4a4a4a">1 ± --</text>
<text transform="translate(523.50,223.50) scale(1,1.12)" font-size="8.3" text-anchor="start" fill="#4a4a4a">Slope</text>
<text transform="translate(673.20,223.50) scale(1,1.12)" font-size="8.3" text-anchor="end" fill="#4a4a4a">0.39415 ± 4.81812E-4</text>
</svg></body></html>
